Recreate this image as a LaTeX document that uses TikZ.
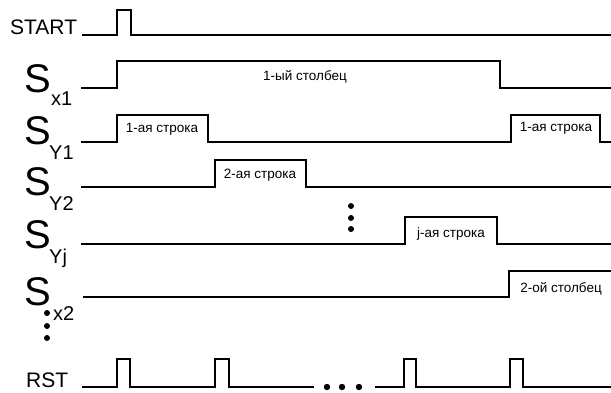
\documentclass[tikz,border=0pt]{standalone}
\usepackage{fontspec}
\setmainfont{Liberation Sans}
\begin{document}
\begin{tikzpicture}[x=1pt,y=-1pt,
  wave/.style={line width=1.7pt,line join=miter,black},
  big/.style={font=\fontsize{40}{40}\selectfont,anchor=base west,inner sep=0pt},
  sub/.style={font=\fontsize{20}{20}\selectfont,anchor=base west,inner sep=0pt},
  sig/.style={font=\fontsize{21}{21}\selectfont,anchor=base west,inner sep=0pt},
  lbl/.style={font=\fontsize{13.5}{13.5}\selectfont,anchor=base,inner sep=0pt},
  dot/.style={fill=black,draw=none}]
\useasboundingbox (0,0) rectangle (611,392);
% START
\node[sig] (start) at (10,34) {START};
\draw[wave] (82,35) -- (117,35) -- (117,10) -- (131,10) -- (131,35) -- (611,35);
% S_x1
\node[big] (sx1) at (24,92) {S};
\node[sub] (sx1s) at (51,105) {x1};
\draw[wave] (81,88) -- (117,88) -- (117,61) -- (500,61) -- (500,88) -- (611,88);
\node[lbl] (l1) at (305,80) {1-ый столбец};
% S_Y1
\node[big] (sy1) at (24,144) {S};
\node[sub] (sy1s) at (49,159) {Y1};
\draw[wave] (81,142) -- (117,142) -- (117,115) -- (208,115) -- (208,142) -- (511,142) -- (511,115) -- (600,115) -- (600,142) -- (611,142);
\node[lbl] (l2) at (162,132) {1-ая строка};
\node[lbl] (l3) at (556,131) {1-ая строка};
% S_Y2
\node[big] (sy2) at (24,195) {S};
\node[sub] (sy2s) at (49,210) {Y2};
\draw[wave] (81,187) -- (215,187) -- (215,160) -- (306,160) -- (306,187) -- (611,187);
\node[lbl] (l4) at (260,178) {2-ая строка};
% dots
\fill[dot] (351,206) circle (3) (351,218) circle (3) (351,229) circle (3);
% S_Yj
\node[big] (syj) at (24,248) {S};
\node[sub] (syjs) at (49,263) {Yj};
\draw[wave] (81,244) -- (405,244) -- (405,217) -- (497,217) -- (497,244) -- (611,244);
\node[lbl] (l5) at (451,237) {j-ая строка};
% S_x2
\node[big] (sx2) at (24,305) {S};
\node[sub] (sx2s) at (53,320) {x2};
\draw[wave] (83,297) -- (509,297) -- (509,271) -- (611,271);
\node[lbl] (l6) at (561,292) {2-ой столбец};
\fill[dot] (47,313) circle (3) (47,326) circle (3) (47,338) circle (3);
% RST
\node[sig] (rst) at (26,387) {RST};
\draw[wave] (82,387) -- (117,387) -- (117,359) -- (130,359) -- (130,387) -- (215,387) -- (215,359) -- (229,359) -- (229,387) -- (314,387);
\fill[dot] (327,387) circle (3.2) (342,387) circle (3.2) (359,387) circle (3.2);
\draw[wave] (375,387) -- (404,387) -- (404,359) -- (416,359) -- (416,387) -- (510,387) -- (510,359) -- (523,359) -- (523,387) -- (611,387);
\end{tikzpicture}
\end{document}
